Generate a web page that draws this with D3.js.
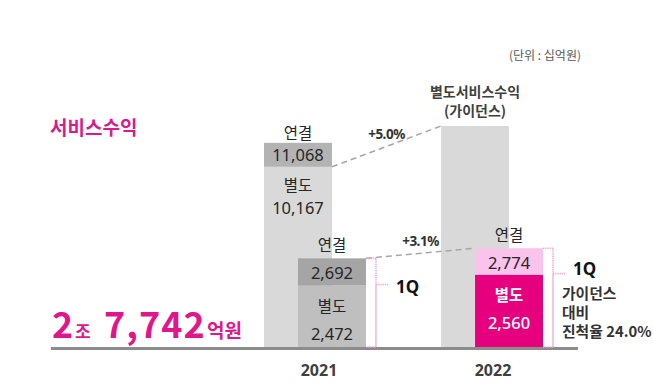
<!DOCTYPE html>
<html>
<head>
<meta charset="utf-8">
<script src="https://cdn.jsdelivr.net/npm/d3@7"></script>
<style>
  html, body { margin: 0; padding: 0; background: #ffffff; }
  svg { display: block; font-family: "Noto Sans CJK KR", "Noto Sans", sans-serif; }
  .num { font-family: "Noto Sans", "Open Sans", sans-serif; }
</style>
</head>
<body>
<svg id="chart" width="653" height="382"></svg>
<script>
// ---------- data ----------
const years = ["2021", "2022"];
const annualSeparate = [10167];        // 2021 별도 서비스수익
const annualConsolidated = [11068];    // 2021 연결 서비스수익
const guidanceSeparate = [11700];      // 2022 별도 서비스수익 가이던스 (bar height)
const q1Consolidated = [2692, 2774];   // 1Q 연결
const q1Separate = [2472, 2560];       // 1Q 별도
const growthLabels = ["+5.0%", "+3.1%"];
const progressLines = ["가이던스", "대비", "진척율 24.0%"];
const headlineParts = ["2", "조", "7,742", "억원"];

// ---------- layout ----------
const svg = d3.select("#chart");
const baseY = 347;
const fmt = d3.format(",");

const x = d3.scaleBand().domain(years).range([264, 543]).paddingInner(0.424).paddingOuter(0);
const bw = x.bandwidth();
const barW = bw * 2 / 3;
const qOff = bw / 3;

const yA = d3.scaleLinear().domain([3400, 11700]).range([baseY, 126]);
const yQ = d3.scaleLinear().domain([1975, 2800]).range([baseY, 245]);

const C = {
  lightGray: "#d9d9d9",
  annualBand: "#b3b3b3",
  q1Light: "#bfbfbf",
  q1Band: "#a5a5a5",
  pinkLight: "#f9c3ec",
  magenta: "#e6007e",
  title: "#d81b8c",
  bracket: "#eaa2d8",
  text: "#262626",
  dark: "#404040"
};

// ---------- annual bars ----------
const a2021 = x(years[0]);
svg.append("rect").attr("x", a2021).attr("width", barW)
  .attr("y", yA(annualSeparate[0])).attr("height", baseY - yA(annualSeparate[0]))
  .attr("fill", C.lightGray);
svg.append("rect").attr("x", a2021).attr("width", barW)
  .attr("y", yA(annualConsolidated[0])).attr("height", yA(annualSeparate[0]) - yA(annualConsolidated[0]))
  .attr("fill", C.annualBand);

const a2022 = x(years[1]);
svg.append("rect").attr("x", a2022).attr("width", barW)
  .attr("y", yA(guidanceSeparate[0])).attr("height", baseY - yA(guidanceSeparate[0]))
  .attr("fill", C.lightGray);

// ---------- growth dashed lines ----------
const growthLines = [
  [[a2021 + barW, yA(annualSeparate[0])], [a2022, yA(guidanceSeparate[0])]],
  [[x(years[0]) + qOff + barW, yQ(q1Consolidated[0])], [x(years[1]) + qOff, yQ(q1Consolidated[1])]]
];

// ---------- Q1 bars ----------
const sepColors = [C.q1Light, C.magenta];
const conColors = [C.q1Band, C.pinkLight];
years.forEach((yr, i) => {
  const bx = x(yr) + qOff;
  svg.append("rect").attr("x", bx).attr("width", barW)
    .attr("y", yQ(q1Separate[i])).attr("height", baseY - yQ(q1Separate[i]))
    .attr("fill", sepColors[i]);
  svg.append("rect").attr("x", bx).attr("width", barW)
    .attr("y", yQ(q1Consolidated[i])).attr("height", yQ(q1Separate[i]) - yQ(q1Consolidated[i]))
    .attr("fill", conColors[i]);
});

growthLines.forEach((seg, i) => {
  svg.append("line")
    .attr("x1", seg[0][0]).attr("y1", seg[0][1])
    .attr("x2", seg[1][0]).attr("y2", seg[1][1])
    .attr("stroke", "#a6a6a6").attr("stroke-width", 1.5).attr("stroke-dasharray", "6,4");
  const mx = (seg[0][0] + seg[1][0]) / 2, my = (seg[0][1] + seg[1][1]) / 2;
  svg.append("text").attr("class", "num").attr("x", mx).attr("y", my - 12)
    .attr("text-anchor", "middle").attr("dominant-baseline", "central")
    .attr("font-size", 13.5).attr("font-weight", 700).attr("letter-spacing", -0.5)
    .attr("fill", "#333").text(growthLabels[i]);
});

// ---------- baseline ----------
svg.append("line").attr("x1", 51).attr("x2", 578).attr("y1", baseY + 1.5).attr("y2", baseY + 1.5)
  .attr("stroke", "#8c8c8c").attr("stroke-width", 3);

// ---------- bar labels ----------
function label(xp, yp, txt, opts = {}) {
  return svg.append("text").attr("class", opts.num ? "num" : null).attr("x", xp).attr("y", yp)
    .attr("text-anchor", "middle").attr("dominant-baseline", "central")
    .attr("font-size", opts.size || 15.5).attr("font-weight", opts.weight || 400)
    .attr("fill", opts.fill || C.text).text(txt);
}

// annual 2021
const acx = a2021 + barW / 2;
label(acx, yA(annualConsolidated[0]) - 11, "연결");
label(acx, (yA(annualConsolidated[0]) + yA(annualSeparate[0])) / 2, fmt(annualConsolidated[0]), { size: 16.5, num: true });
label(acx, yA(annualSeparate[0]) + 17, "별도");
label(acx, yA(annualSeparate[0]) + 41, fmt(annualSeparate[0]), { size: 16.5, num: true });

// Q1 bars
years.forEach((yr, i) => {
  const cx = x(yr) + qOff + barW / 2;
  const white = i === 1;
  label(cx, yQ(q1Consolidated[i]) - 14, "연결");
  label(cx, (yQ(q1Consolidated[i]) + yQ(q1Separate[i])) / 2 + 1, fmt(q1Consolidated[i]), { size: 16.5, num: true });
  label(cx, yQ(q1Separate[i]) + 19, "별도", white ? { fill: "#fff", weight: 700 } : {});
  label(cx, yQ(q1Separate[i]) + 48, fmt(q1Separate[i]),
    white ? { fill: "#fff", size: 16.5, weight: 500, num: true } : { size: 16.5, num: true });
});

// ---------- 1Q brackets ----------
years.forEach((yr, i) => {
  const right = x(yr) + qOff + barW;
  const bxp = right + 10;
  const top = yQ(q1Consolidated[i]);
  const tickY = yQ(q1Separate[i]) - 1;
  const dotted = { "stroke": C.bracket, "stroke-width": 1.6, "stroke-dasharray": "1.2,1", "fill": "none" };
  const add = (d, st) => { const p = svg.append("path").attr("d", d); Object.entries(st).forEach(([k, v]) => p.attr(k, v)); };
  add(`M${right},${top}H${bxp}V${tickY}`, dotted);
  add(`M${right},${baseY}H${bxp}`, dotted);
  add(`M${bxp},${tickY}V${baseY}`, { "stroke": C.bracket, "stroke-width": 1.2, "fill": "none" });
  add(`M${bxp},${tickY}H${bxp + 13}`, dotted);
  const qy = i === 0 ? tickY + 2 : tickY - 5;
  svg.append("text").attr("class", "num").attr("x", bxp + 20).attr("y", qy).attr("dominant-baseline", "central")
    .attr("font-size", 17).attr("font-weight", 700).attr("fill", "#111").text("1Q");
  if (i === 1) {
    progressLines.forEach((t, k) => {
      svg.append("text").attr("x", bxp + 9).attr("y", qy + 24 + k * 19).attr("dominant-baseline", "central")
        .attr("font-size", 14.8).attr("font-weight", 700)
        .attr("fill", "#333").text(t);
    });
  }
});

// ---------- year labels ----------
years.forEach((yr, i) => {
  svg.append("text").attr("class", "num").attr("x", x(yr) + bw / 2 + (i === 0 ? 4 : 1)).attr("y", 370)
    .attr("text-anchor", "middle").attr("dominant-baseline", "central")
    .attr("font-size", 16).attr("font-weight", 700).attr("fill", C.dark).text(yr);
});

// ---------- titles / notes ----------
svg.append("text").attr("x", 581).attr("y", 54).attr("text-anchor", "end").attr("dominant-baseline", "central")
  .attr("font-size", 12).attr("fill", "#595959").text("(단위 : 십억원)");

const gcx = a2022 + barW / 2;
svg.append("text").attr("x", gcx).attr("y", 91).attr("text-anchor", "middle").attr("dominant-baseline", "central")
  .attr("font-size", 14).attr("font-weight", 700).attr("fill", C.dark).text("별도서비스수익");
svg.append("text").attr("x", gcx).attr("y", 110).attr("text-anchor", "middle").attr("dominant-baseline", "central")
  .attr("font-size", 14).attr("font-weight", 700).attr("fill", C.dark).text("(가이던스)");

svg.append("text").attr("x", 50).attr("y", 126).attr("dominant-baseline", "central")
  .attr("font-size", 19).attr("font-weight", 700).attr("fill", C.title).text("서비스수익");

const partX = [52, 75, 104, 207];
const partSize = [36, 17, 36, 19];
const partSpacing = [0, 0, 1, 0];
headlineParts.forEach((t, k) => {
  svg.append("text").attr("x", partX[k]).attr("y", 338)
    .attr("fill", "#e0168a").attr("font-weight", 700)
    .attr("font-size", partSize[k]).attr("letter-spacing", partSpacing[k]).text(t);
});
</script>
</body>
</html>
